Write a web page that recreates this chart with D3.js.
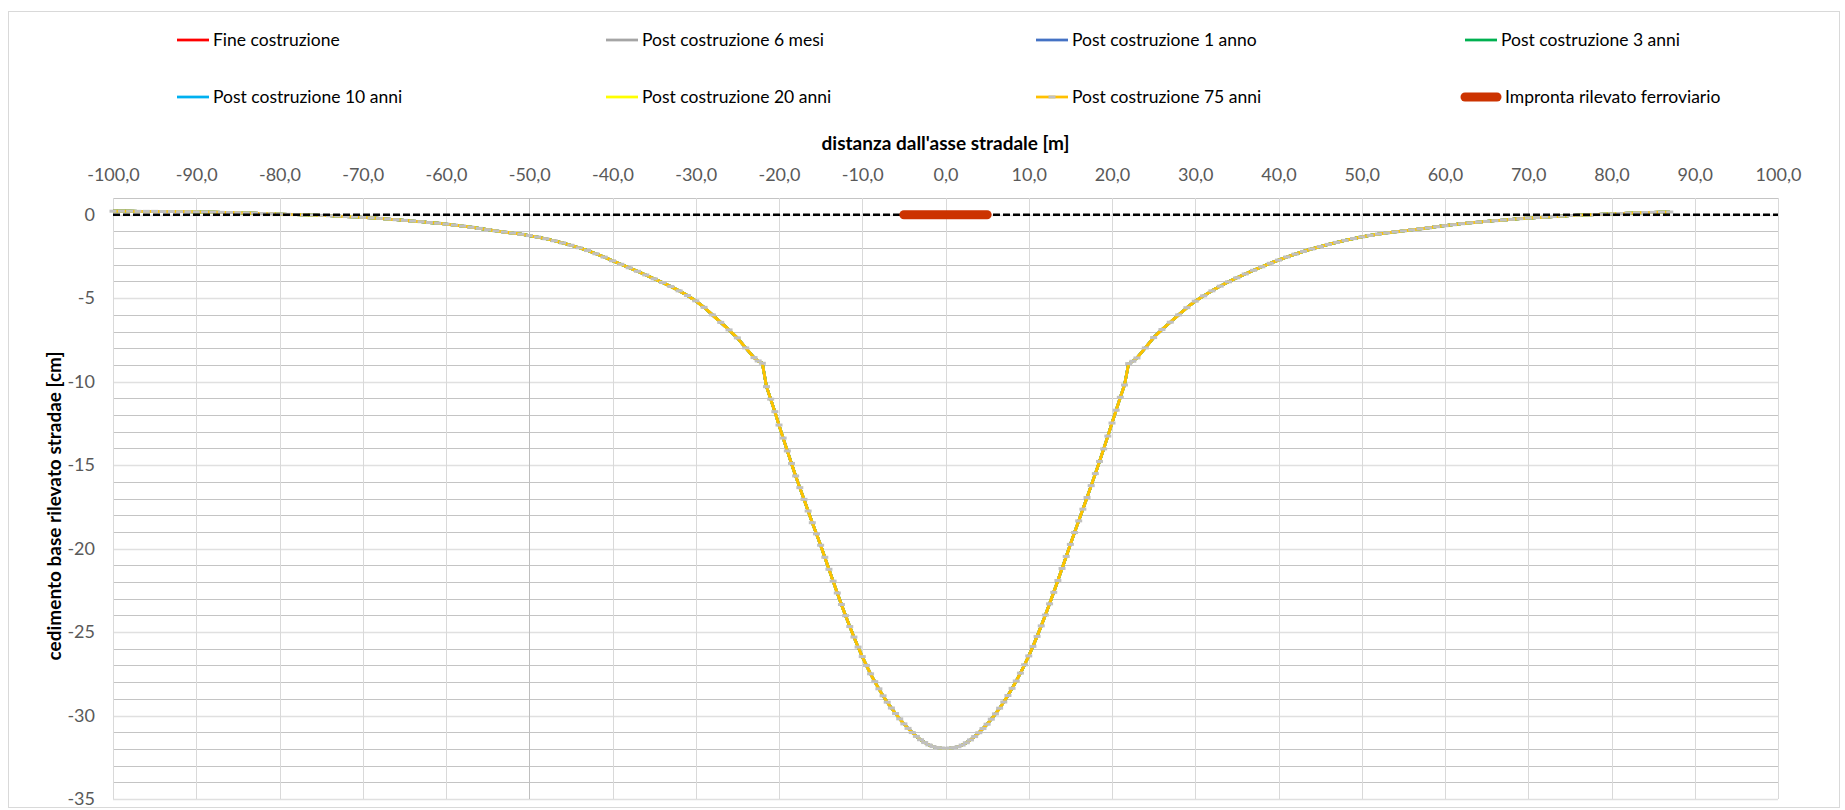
<!DOCTYPE html>
<html lang="it">

<head>
  <meta charset="utf-8">
  <title>Cedimenti base rilevato stradale</title>
  <script src="https://cdn.jsdelivr.net/npm/d3@7"></script>
  <style>
    body { margin: 0; background: #fff; }
    text { font-family: Lato, "Open Sans", sans-serif; }
    .tick text { fill: #595959; font-size: 18px; }
  </style>
</head>

<body>
  <script>
    // serie (tutte le fasi coincidono sul grafico)
    var serieNomi = [
      "Fine costruzione", "Post costruzione 6 mesi", "Post costruzione 1 anno", "Post costruzione 3 anni",
      "Post costruzione 10 anni", "Post costruzione 20 anni", "Post costruzione 75 anni"
    ];
    var serieColori = ["#ff0000", "#a5a5a5", "#4472c4", "#00b050", "#00b0f0", "#ffff00", "#ffc000"];
    var improntaNome = "Impronta rilevato ferroviario";
    var improntaColore = "#cc3300";

    // distanza dall'asse [m]
    var distanza = [
      -100, -99, -98, -97, -96, -95, -94, -93, -92, -91, -90, -89, -88, -87, -86, -85, -84, -83, -82, -81,
      -80, -79, -78, -77, -76, -75, -74, -73, -72, -71, -70, -69, -68, -67, -66, -65, -64, -63, -62, -61,
      -60, -59, -58, -57, -56, -55, -54, -53, -52, -51, -50, -49, -48, -47, -46, -45, -44, -43, -42, -41,
      -40, -39, -38, -37, -36, -35, -34, -33, -32, -31, -30, -29, -28, -27, -26, -25, -24, -23,
      -22.5, -22, -21.5, -21, -20.5, -20, -19.5, -19, -18.5, -18, -17.5, -17, -16.5, -16, -15.5, -15,
      -14.5, -14, -13.5, -13, -12.5, -12, -11.5, -11, -10.5, -10, -9.5, -9, -8.5, -8, -7.5, -7,
      -6.5, -6, -5.5, -5, -4.5, -4, -3.5, -3, -2.5, -2, -1.5, -1, -0.5, 0,
      0.5, 1, 1.5, 2, 2.5, 3, 3.5, 4, 4.5, 5, 5.5, 6, 6.5, 7, 7.5, 8,
      8.5, 9, 9.5, 10, 10.5, 11, 11.5, 12, 12.5, 13, 13.5, 14, 14.5, 15, 15.5, 16,
      16.5, 17, 17.5, 18, 18.5, 19, 19.5, 20, 20.5, 21, 21.5, 22, 22.5,
      23, 24, 25, 26, 27, 28, 29, 30, 31, 32, 33, 34, 35, 36, 37, 38, 39, 40, 41, 42,
      43, 44, 45, 46, 47, 48, 49, 50, 51, 52, 53, 54, 55, 56, 57, 58, 59, 60, 61, 62,
      63, 64, 65, 66, 67, 68, 69, 70, 71, 72, 73, 74, 75, 76, 77, 78, 79, 80, 81, 82,
      83, 84, 85, 86, 87
    ];
    // cedimento [cm]
    var cedimento = [
      0.21, 0.21, 0.21, 0.20, 0.20, 0.20, 0.19, 0.19, 0.18, 0.18, 0.17, 0.16, 0.15, 0.14, 0.13, 0.12, 0.10, 0.09, 0.07, 0.06,
      0.04, 0.02, 0.01, -0.01, -0.02, -0.04, -0.06, -0.08, -0.11, -0.13, -0.16, -0.19, -0.22, -0.26, -0.30, -0.34, -0.38, -0.42, -0.47, -0.51,
      -0.56, -0.62, -0.68, -0.75, -0.82, -0.90, -0.97, -1.04, -1.10, -1.17, -1.25, -1.34, -1.44, -1.56, -1.69, -1.83, -1.98, -2.15, -2.34, -2.54,
      -2.76, -2.97, -3.18, -3.39, -3.61, -3.84, -4.06, -4.30, -4.56, -4.84, -5.16, -5.55, -6.00, -6.45, -6.90, -7.38, -7.98, -8.56,
      -8.76, -8.90, -10.30, -11.05, -11.80, -12.60, -13.38, -14.15, -14.90, -15.65, -16.35, -17.05, -17.75, -18.45, -19.12, -19.80,
      -20.52, -21.24, -21.95, -22.66, -23.35, -24.02, -24.67, -25.30, -25.90, -26.47, -27.00, -27.50, -27.97, -28.40, -28.82, -29.20,
      -29.55, -29.88, -30.20, -30.50, -30.77, -31.02, -31.25, -31.45, -31.62, -31.76, -31.86, -31.92, -31.95, -31.96,
      -31.95, -31.92, -31.87, -31.77, -31.63, -31.46, -31.26, -31.03, -30.78, -30.52, -30.22, -29.90, -29.56, -29.19, -28.80, -28.37,
      -27.93, -27.46, -26.96, -26.43, -25.86, -25.26, -24.63, -23.98, -23.31, -22.62, -21.91, -21.19, -20.47, -19.75, -19.04, -18.34,
      -17.64, -16.94, -16.23, -15.51, -14.78, -14.03, -13.26, -12.48, -11.71, -10.94, -10.20, -8.92, -8.78,
      -8.58, -7.98, -7.36, -6.88, -6.44, -6.00, -5.57, -5.18, -4.86, -4.56, -4.28, -4.02, -3.78, -3.55, -3.33, -3.12, -2.91, -2.72, -2.53, -2.36,
      -2.20, -2.05, -1.91, -1.78, -1.66, -1.54, -1.43, -1.33, -1.24, -1.16, -1.09, -1.03, -0.97, -0.91, -0.85, -0.79, -0.72, -0.66, -0.60, -0.54,
      -0.49, -0.44, -0.40, -0.36, -0.32, -0.28, -0.24, -0.20, -0.17, -0.14, -0.11, -0.08, -0.05, -0.03, -0.01, 0.01, 0.03, 0.05, 0.07, 0.09,
      0.11, 0.13, 0.14, 0.15, 0.16
    ];
    // impronta del rilevato ferroviario
    var improntaX = [-5, 5];
    var improntaY = [0, 0];

    var xTicks = [-100, -90, -80, -70, -60, -50, -40, -30, -20, -10, 0, 10, 20, 30, 40, 50, 60, 70, 80, 90, 100];
    var yTicks = [0, -5, -10, -15, -20, -25, -30, -35];

    var w = 1845;
    var h = 810;
    var margin = { top: 198, left: 113, right: 67, bottom: 11 };
    var width = w - margin.left - margin.right;
    var height = h - margin.top - margin.bottom;

    var it = d3.formatLocale({ decimal: ",", thousands: ".", grouping: [3], currency: ["", " €"], minus: "-" });

    var svg = d3.select("body").append("svg")
                .attr("width", w)
                .attr("height", h);

    // cornice esterna
    svg.append("rect")
       .attr("x", 8.5).attr("y", 11.5)
       .attr("width", 1831).attr("height", 796)
       .attr("fill", "none")
       .attr("stroke", "#d9d9d9");

    var chart = svg.append("g")
                   .attr("transform", "translate(" + margin.left + "," + margin.top + ")");

    var x = d3.scaleLinear().domain([-100, 100]).range([0, width]);
    var y = d3.scaleLinear().domain([1, -35]).range([0, height]);

    // griglia orizzontale: secondaria ogni 1 cm, principale ogni 5 cm
    var yMinor = d3.range(1, -35.5, -1).filter(function(v) { return v % 5 !== 0; });
    chart.append("g").selectAll("line")
         .data(yMinor).enter().append("line")
         .attr("x1", 0).attr("x2", width)
         .attr("y1", function(d) { return Math.round(y(d)) + 0.5; })
         .attr("y2", function(d) { return Math.round(y(d)) + 0.5; })
         .attr("stroke", "#c4c4c4");
    chart.append("g").selectAll("line")
         .data(yTicks).enter().append("line")
         .attr("x1", 0).attr("x2", width)
         .attr("y1", function(d) { return Math.round(y(d)) + 0.5; })
         .attr("y2", function(d) { return Math.round(y(d)) + 0.5; })
         .attr("stroke", "#e0e0e0")
         .attr("stroke-width", 1.5);

    // griglia verticale
    chart.append("g").selectAll("line")
         .data(xTicks).enter().append("line")
         .attr("x1", function(d) { return Math.round(x(d)) + 0.5; })
         .attr("x2", function(d) { return Math.round(x(d)) + 0.5; })
         .attr("y1", 0).attr("y2", height)
         .attr("stroke", function(d) { return d === -50 ? "#bfbfbf" : "#d9d9d9"; });

    // assi (solo etichette)
    var xAxis = d3.axisTop(x)
                  .tickValues(xTicks)
                  .tickSize(0)
                  .tickPadding(17)
                  .tickFormat(it.format(".1f"));
    var yAxis = d3.axisLeft(y)
                  .tickValues(yTicks)
                  .tickSize(0)
                  .tickPadding(18)
                  .tickFormat(it.format("d"));
    chart.append("g").call(xAxis).call(function(g) { g.select(".domain").remove(); });
    chart.append("g").call(yAxis).call(function(g) { g.select(".domain").remove(); });

    chart.append("text")
         .attr("x", width / 2)
         .attr("y", -48)
         .attr("text-anchor", "middle")
         .attr("font-weight", "bold")
         .attr("font-size", 19)
         .attr("fill", "#000")
         .text("distanza dall'asse stradale [m]");
    chart.append("text")
         .attr("transform", "translate(" + (-52) + "," + (506 - margin.top) + ") rotate(-90)")
         .attr("text-anchor", "middle")
         .attr("font-weight", "bold")
         .attr("font-size", 19)
         .attr("fill", "#000")
         .text("cedimento base rilevato stradae [cm]");

    // curve
    var punti = distanza.map(function(d, i) { return { x: d, y: cedimento[i] }; });
    var line = d3.line()
                 .x(function(d) { return x(d.x); })
                 .y(function(d) { return y(d.y); });

    serieNomi.forEach(function(nome, i) {
      chart.append("path")
           .datum(punti)
           .attr("d", line)
           .attr("fill", "none")
           .attr("stroke", serieColori[i])
           .attr("stroke-width", 2.75)
           .attr("stroke-linejoin", "round");
    });
    // marcatori a trattino dell'ultima serie
    chart.append("g").selectAll("rect")
         .data(punti).enter().append("rect")
         .attr("x", function(d) { return x(d.x) - 3.5; })
         .attr("y", function(d) { return y(d.y) - 1.5; })
         .attr("width", 7)
         .attr("height", 3)
         .attr("fill", "#c0c0c0");

    // asse stradale (quota zero)
    chart.append("line")
         .attr("x1", 0).attr("x2", width)
         .attr("y1", y(0)).attr("y2", y(0))
         .attr("stroke", "#000")
         .attr("stroke-width", 2.5)
         .attr("stroke-dasharray", "7,3");

    // impronta rilevato
    chart.append("path")
         .datum(improntaX.map(function(d, i) { return { x: d, y: improntaY[i] }; }))
         .attr("d", line)
         .attr("stroke", improntaColore)
         .attr("stroke-width", 9)
         .attr("stroke-linecap", "round");

    // legenda
    var legNomi = serieNomi.concat([improntaNome]);
    var legColori = serieColori.concat([improntaColore]);
    var colX = [177, 606, 1036, 1465];
    var rowY = [40, 97];
    var leg = svg.append("g").selectAll("g")
                 .data(legNomi).enter().append("g")
                 .attr("transform", function(d, i) {
                   return "translate(" + colX[i % 4] + "," + rowY[Math.floor(i / 4)] + ")";
                 });
    leg.append("line")
       .attr("x1", 0).attr("x2", 32)
       .attr("y1", 0).attr("y2", 0)
       .attr("stroke", function(d, i) { return legColori[i]; })
       .attr("stroke-width", function(d, i) { return i === 7 ? 9 : 2.75; })
       .attr("stroke-linecap", function(d, i) { return i === 7 ? "round" : "butt"; });
    leg.filter(function(d, i) { return i === 6; })
       .append("rect")
       .attr("x", 12.5).attr("y", -1.5)
       .attr("width", 7).attr("height", 3)
       .attr("fill", "#c0c0c0");
    leg.append("text")
       .attr("x", function(d, i) { return i === 7 ? 40 : 36; })
       .attr("dy", "0.35em")
       .attr("font-size", 17.5)
       .attr("fill", "#000")
       .text(function(d) { return d; });
  </script>
</body>

</html>
